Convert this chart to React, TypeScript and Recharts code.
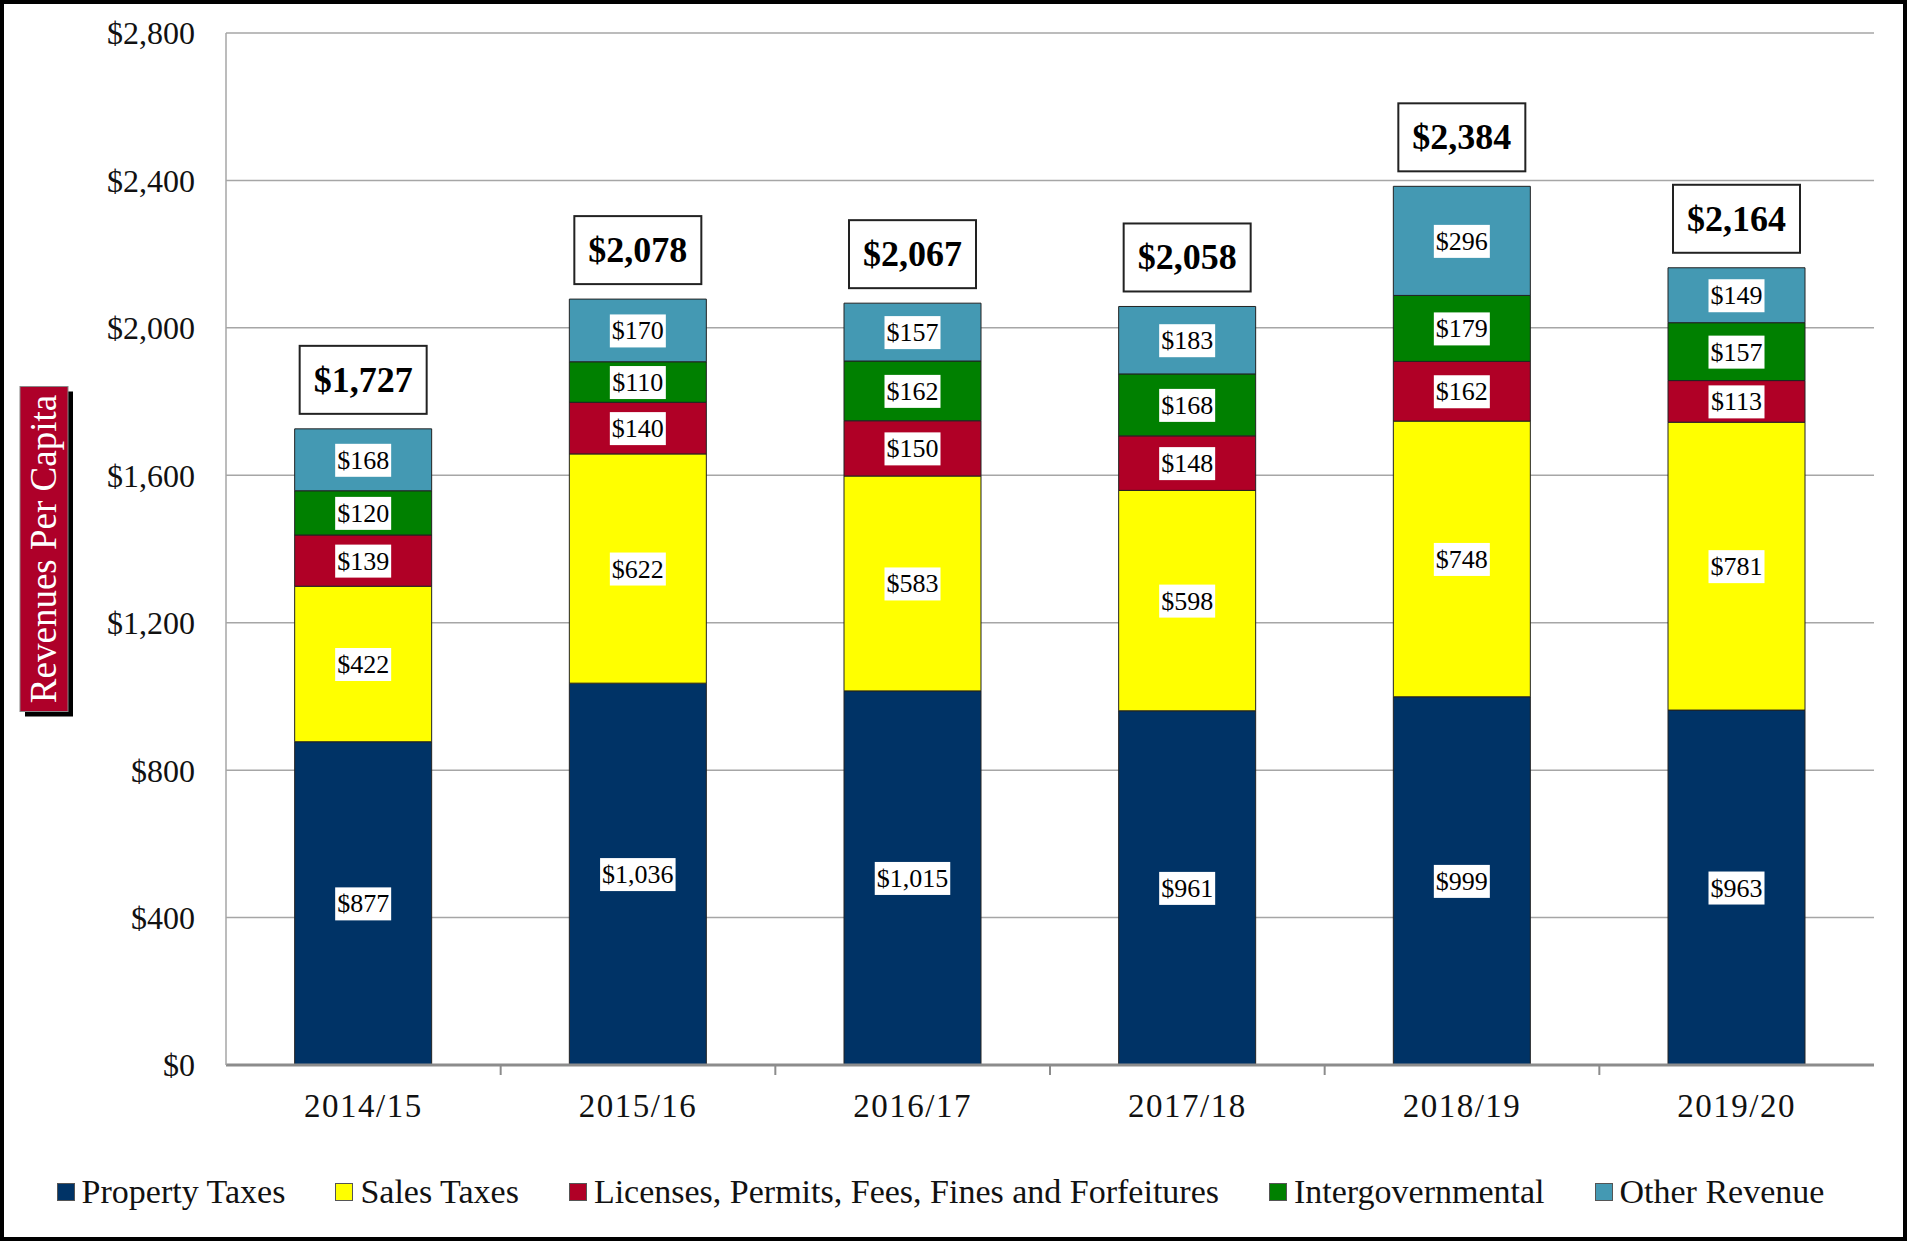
import React from 'react';
import { BarChart, Bar, XAxis, YAxis, CartesianGrid, LabelList } from 'recharts';

const years = ['2014/15', '2015/16', '2016/17', '2017/18', '2018/19', '2019/20'];
const propertyTaxes = [877, 1036, 1015, 961, 999, 963];
const salesTaxes = [422, 622, 583, 598, 748, 781];
const licenses = [139, 140, 150, 148, 162, 113];
const intergovernmental = [120, 110, 162, 168, 179, 157];
const otherRevenue = [168, 170, 157, 183, 296, 149];
const totals = [1727, 2078, 2067, 2058, 2384, 2164];
const yTicks = [0, 400, 800, 1200, 1600, 2000, 2400, 2800];

const series = [
  { key: 'property', name: 'Property Taxes', color: '#003366' },
  { key: 'sales', name: 'Sales Taxes', color: '#FFFF00' },
  { key: 'licenses', name: 'Licenses, Permits, Fees, Fines and Forfeitures', color: '#B00026' },
  { key: 'intergov', name: 'Intergovernmental', color: '#008000' },
  { key: 'other', name: 'Other Revenue', color: '#4499B3' },
];

const data = years.map((year, i) => ({
  year,
  property: propertyTaxes[i],
  sales: salesTaxes[i],
  licenses: licenses[i],
  intergov: intergovernmental[i],
  other: otherRevenue[i],
  total: totals[i],
}));

const FONT = '"Liberation Serif", "Times New Roman", serif';

const money = (v: number) => '$' + v.toLocaleString('en-US');

// rough width of a money string in Liberation Serif
const textWidth = (s: string, size: number) =>
  s.split('').reduce((w, c) => w + (c === ',' ? 0.25 : 0.5), 0) * size;

const SegmentLabel = (props: any) => {
  const { x, y, width, height, value } = props;
  const text = money(value);
  const w = textWidth(text, 26) + 4;
  const cx = x + width / 2;
  const cy = y + height / 2;
  return (
    <g>
      <rect x={cx - w / 2} y={cy - 16} width={w} height={33} fill="#fff" />
      <text x={cx} y={cy + 9} textAnchor="middle" fontSize={26} fontFamily={FONT} fill="#000">
        {text}
      </text>
    </g>
  );
};

const TotalLabel = (props: any) => {
  const { x, y, width, value } = props;
  const text = money(value);
  const w = textWidth(text, 36) + 28;
  const h = 68;
  const cx = x + width / 2;
  const bottom = y - 15;
  return (
    <g>
      <rect x={cx - w / 2} y={bottom - h} width={w} height={h} fill="#fff" stroke="#222" strokeWidth={2} />
      <text
        x={cx}
        y={bottom - h / 2 + 12}
        textAnchor="middle"
        fontSize={36}
        fontWeight="bold"
        fontFamily={FONT}
        fill="#000"
      >
        {text}
      </text>
    </g>
  );
};

const AxisTitle = (props: any) => {
  const { viewBox } = props;
  const cy = viewBox.y + viewBox.height / 2;
  const cx = 44;
  const bw = 48;
  const bh = 325;
  return (
    <g>
      <rect x={cx - bw / 2 + 5} y={cy - bh / 2 + 5} width={bw} height={bh} fill="#000" />
      <rect x={cx - bw / 2} y={cy - bh / 2} width={bw} height={bh} fill="#AE0029" stroke="#888" strokeWidth={1} />
      <text
        x={cx}
        y={cy}
        transform={`rotate(-90 ${cx} ${cy})`}
        textAnchor="middle"
        dy={12}
        fontSize={37}
        fontFamily={FONT}
        fill="#fff"
      >
        Revenues Per Capita
      </text>
    </g>
  );
};

const YearTick = (props: any) => {
  const { x, y, payload, index } = props;
  const half = payload.offset ?? 137.3;
  return (
    <g>
      {index < years.length - 1 && (
        <line x1={x + half} y1={y} x2={x + half} y2={y + 10} stroke="#8c8c8c" strokeWidth={2} />
      )}
      <text
        x={x}
        y={y + 52}
        textAnchor="middle"
        fontSize={33}
        letterSpacing={1.5}
        fontFamily={FONT}
        fill="#111"
      >
        {payload.value}
      </text>
    </g>
  );
};

export default function App() {
  return (
    <div
      style={{
        position: 'relative',
        width: 1907,
        height: 1241,
        boxSizing: 'border-box',
        border: '4px solid #000',
        background: '#fff',
      }}
    >
      <style>{'body{margin:0}'}</style>
      <div style={{ position: 'absolute', left: -4, top: -4 }}>
        <BarChart
          width={1907}
          height={1241}
          data={data}
          margin={{ top: 33, right: 33, left: 0, bottom: 116 }}
          barCategoryGap="25%"
        >
          <CartesianGrid vertical={false} stroke="#a6a6a6" strokeWidth={1.5} />
          <XAxis
            dataKey="year"
            height={60}
            tickLine={false}
            tickSize={0}
            tickMargin={0}
            axisLine={{ stroke: '#8c8c8c', strokeWidth: 3 }}
            tick={<YearTick />}
            interval={0}
          />
          <YAxis
            width={226}
            domain={[0, 2800]}
            ticks={yTicks}
            tickFormatter={money}
            tickLine={false}
            tickSize={6}
            tickMargin={25}
            axisLine={{ stroke: '#a6a6a6', strokeWidth: 1.5 }}
            tick={{ fontSize: 32, fontFamily: FONT, fill: '#111' }}
            label={<AxisTitle />}
          />
          <YAxis
            yAxisId="frame"
            orientation="right"
            width={0}
            tick={false}
            tickLine={false}
            axisLine={{ stroke: '#a6a6a6', strokeWidth: 1.5 }}
          />
          {series.map((s) => (
            <Bar
              key={s.key}
              dataKey={s.key}
              name={s.name}
              stackId="rev"
              fill={s.color}
              stroke="#222"
              strokeWidth={1}
              isAnimationActive={false}
            >
              <LabelList dataKey={s.key} content={<SegmentLabel />} />
              {s.key === 'other' && <LabelList dataKey="total" content={<TotalLabel />} />}
            </Bar>
          ))}
        </BarChart>
      </div>
      <div
        style={{
          position: 'absolute',
          left: -4,
          top: 1169,
          width: 1907,
          paddingRight: 26,
          boxSizing: 'border-box',
          display: 'flex',
          justifyContent: 'center',
          alignItems: 'center',
          gap: 50,
          fontFamily: FONT,
          fontSize: 34,
          color: '#111',
        }}
      >
        {series.map((s) => (
          <div key={s.key} style={{ display: 'flex', alignItems: 'center' }}>
            <span
              style={{
                display: 'inline-block',
                width: 16,
                height: 16,
                background: s.color,
                border: '1px solid #555',
                marginRight: 7,
              }}
            />
            <span>{s.name}</span>
          </div>
        ))}
      </div>
    </div>
  );
}
